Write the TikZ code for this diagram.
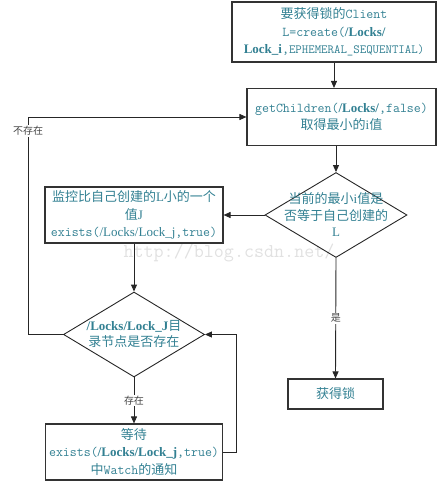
\documentclass[tikz,border=0pt]{standalone}
\usepackage{fontspec}
\setmainfont{Liberation Serif}
\newfontfamily\cjk{Noto Sans CJK SC}
\usetikzlibrary{arrows.meta,shapes.geometric}
\definecolor{txt}{RGB}{50,128,146}
\definecolor{lbl}{RGB}{70,70,70}
\definecolor{wm}{RGB}{225,225,225}
\newcommand\zh[1]{{\cjk #1}}
\newcommand\bl[1]{\textbf{#1}}
\newcommand\tx[1]{{\ttfamily\fontsize{13.5}{17.5}\selectfont #1}}
\newcommand\smtt[1]{{\ttfamily\fontsize{12.5}{17.5}\selectfont #1}}
\begin{document}
\begin{tikzpicture}[x=1pt,y=-1pt,
  box/.style={draw=black!80,line width=1.1pt,inner sep=0pt,align=center,text=txt,
    font=\fontsize{13}{17.5}\selectfont},
  dia/.style={draw=black!85,line width=0.9pt,diamond,inner sep=0pt},
  dtext/.style={align=center,text=txt,inner sep=0pt,font=\fontsize{13}{16.5}\selectfont},
  arr/.style={draw=black!85,line width=0.9pt,-{Triangle[length=7pt,width=6pt]}},
  lab/.style={fill=white,text=lbl,inner sep=1pt,font=\fontsize{10}{12}\cjk},
  wmark/.style={text=wm,inner sep=0pt,font=\ttfamily\fontsize{19.5}{20}\selectfont}]
\useasboundingbox (0,0) rectangle (442,483);
\node[wmark] (wmk) at (229,253) {http://blog.csdn.net/};

\node[box,minimum width=204,minimum height=60] (b1) at (334,32)
  {\zh{要获得锁的}\tx{Client}\\
   \tx{L=create(}\bl{/Locks/}\\
   \bl{Lock\_i}\tx{,}\smtt{EPHEMERAL\_SEQUENTIAL)}};
\node[box,minimum width=189,minimum height=57] (b2) at (341.5,117)
  {\tx{getChildren(}\bl{/Locks/}\tx{,false)}\\
   \zh{取得最小的}i\zh{值}};
\node[dia,minimum width=142,minimum height=85] (d1) at (336,215) {};
\node[dtext] (t1) at (336,215)
  {\zh{当前的最小}i\zh{值是}\\ \zh{否等于自己创建的}\\ L};
\node[box,minimum width=178,minimum height=56] (b3) at (134,215)
  {\zh{监控比自己创建的}L\zh{小的一个}\\
   \zh{值}J\\
   \tx{exists(}/Locks/Lock\_j\tx{,true)}};
\node[dia,minimum width=141,minimum height=85] (d2) at (134,334.5) {};
\node[dtext] (t2) at (134,334)
  {\bl{/Locks/Lock\_J}\zh{目}\\ \zh{录节点是否存在}};
\node[box,minimum width=177,minimum height=56] (b4) at (134,452)
  {\zh{等待}\\
   \tx{exists(}\bl{/Locks/Lock\_j}\tx{,true)}\\
   \zh{中}\tx{Watch}\zh{的通知}};
\node[box,minimum width=95,minimum height=30] (b5) at (335.5,394) {\zh{获得锁}};

\coordinate (cl) at (28,117);
\coordinate (cr) at (236,334.5);

\draw[arr] (b1.south) -- (b1.south |- b2.north);
\draw[arr] (d1.north |- b2.south) -- (d1.north);
\draw[arr] (d1.west) -- (b3.east);
\draw[arr] (b3.south) -- (d2.north);
\draw[arr] (d2.south) -- node[lab] (l1) {存在} (b4.north);
\draw[arr] (d1.south) -- node[lab] (l2) {是} (b5.north);
\draw[arr] (d2.west) -| (cl) -- (b2.west);
\node[lab] (l3) at (28,131) {不存在};
\draw[arr] (b4.east) -| (cr) -- (d2.east);
\end{tikzpicture}
\end{document}
